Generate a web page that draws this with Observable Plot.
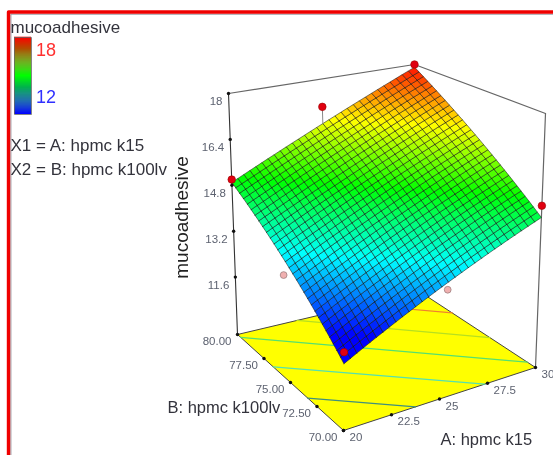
<!DOCTYPE html>
<html>
<head>
<meta charset="utf-8">
<script src="https://cdn.jsdelivr.net/npm/d3@7"></script>
<script src="https://cdn.jsdelivr.net/npm/@observablehq/plot@0.6"></script>
<style>
  html, body { margin: 0; padding: 0; background: #fff; }
  svg { display: block; filter: blur(0.6px); }
</style>
</head>
<body>
<div id="chart"></div>
<script>
// Factor ranges and tick labels
const aTicks = [20, 22.5, 25, 27.5, 30];
const aLabels = ["20", "22.5", "25", "27.5", "30"];
const bTicks = [70, 72.5, 75, 77.5, 80];
const bLabels = ["70.00", "72.50", "75.00", "77.50", "80.00"];
const zTicks = [11.6, 13.2, 14.8, 16.4, 18];
const zFloor = 9.6;
const zTop = 18;

// Design points: A, B, response
const ptA = [20, 30, 30, 20, 25];
const ptB = [80, 80, 70, 70, 80];
const ptZ = [15.0, 18.0, 14.95, 11.83, 17.0];
const lowA = [20, 25.3];
const lowB = [75.5, 70];
const lowZ = [12.85, 12.9];

// Response at the four corners of the fitted plane:
// A20/B70, A30/B70, A30/B80, A20/B80. The mesh cells are interpolated across this plane.
const cornerZ = [11.5, 14.56, 17.9, 14.9];

// Contour levels on the floor (estimated)
const contourLevels = [12.65, 13.75, 14.8, 15.9, 17];
const contourColors = ["#3f8f7f", "#55e0b0", "#55e070", "#b6e020", "#f08030"];

// Picture geometry of the box: the view of a corner on the floor and on the top
const view = {
  floor: {a20b70: [343, 430], a30b70: [535, 367], a30b80: [419, 291], a20b80: [237, 334]},
  top:   {a20b70: [345, 135], a30b70: [545, 113], a30b80: [414, 64],  a20b80: [228, 93]}
};
const cells = 30;

const lerp = (p, q, t) => [p[0] + (q[0] - p[0]) * t, p[1] + (q[1] - p[1]) * t];
function project(A, B, z) {
  const u = (A - 20) / 10, v = (B - 70) / 10, w = (z - zFloor) / (zTop - zFloor);
  const at = (f) => lerp(lerp(f.a20b70, f.a30b70, u), lerp(f.a20b80, f.a30b80, u), v);
  return lerp(at(view.floor), at(view.top), w);
}
const planeZ = (A, B) => {
  const u = (A - 20) / 10, v = (B - 70) / 10;
  return cornerZ[0] * (1 - u) * (1 - v) + cornerZ[1] * u * (1 - v) + cornerZ[2] * u * v + cornerZ[3] * (1 - u) * v;
};
const pt = (A, B, z, extra = {}) => { const [x, y] = project(A, B, z); return {x, y, ...extra}; };

// Surface mesh
const mesh = [];
for (let i = 0; i < cells; i++) for (let j = 0; j < cells; j++) {
  const a0 = 20 + 10 * i / cells, a1 = 20 + 10 * (i + 1) / cells;
  const b0 = 70 + 10 * j / cells, b1 = 70 + 10 * (j + 1) / cells;
  const zc = planeZ((a0 + a1) / 2, (b0 + b1) / 2);
  const id = i * cells + j;
  for (const [a, b] of [[a0, b0], [a1, b0], [a1, b1], [a0, b1], [a0, b0]]) {
    mesh.push(pt(a, b, planeZ(a, b), {id, zc}));
  }
}

// Floor polygon and box lines
const floorPoly = [[20, 70], [30, 70], [30, 80], [20, 80], [20, 70]].map(([a, b]) => pt(a, b, zFloor));
const boxBack = [pt(20, 80, zTop), pt(30, 80, zTop), pt(30, 70, zTop)];
const axisLeft = [pt(20, 80, zTop), pt(20, 80, zFloor)];
const axisRight = [pt(30, 70, zTop), pt(30, 70, zFloor)];

// Contours: straight on a plane, between the two edges of the floor they meet
function contour(level, k) {
  const out = [];
  const dA = cornerZ[1] - cornerZ[0], dB = cornerZ[3] - cornerZ[0];
  const rem = level - cornerZ[0];
  const candidates = [];
  const bAt = (a) => 70 + 10 * (rem - dA * (a - 20) / 10) / dB;
  const aAt = (b) => 20 + 10 * (rem - dB * (b - 70) / 10) / dA;
  for (const a of [20, 30]) { const b = bAt(a); if (b >= 70 && b <= 80) candidates.push([a, b]); }
  for (const b of [70, 80]) { const a = aAt(b); if (a >= 20 && a <= 30) candidates.push([a, b]); }
  for (const [a, b] of candidates.slice(0, 2)) out.push(pt(a, b, zFloor, {k}));
  return out;
}
const contours = contourLevels.flatMap(contour);

const pts = ptA.map((a, i) => pt(a, ptB[i], ptZ[i]));
const low = lowA.map((a, i) => pt(a, lowB[i], lowZ[i]));
const stem = [pt(25, 80, 17.0), pt(25, 80, planeZ(25, 80))];
const aT = aTicks.map((a, i) => pt(a, 70, zFloor, {label: aLabels[i]}));
const bT = bTicks.map((b, i) => pt(20, b, zFloor, {label: bLabels[i]}));
const zT = zTicks.map((z) => pt(20, 80, z, {label: String(z)}));

// Colour key
const keyColor = d3.scaleLinear().domain([12, 15, 18]).range(["#0000ff", "#00ff00", "#ff0000"]);
const keyY = d3.scaleLinear().domain([12, 18]).range([114, 37]);
const keySteps = d3.range(12, 18, 0.08);

const gridText = {fill: "#5d6270", fontFamily: "Liberation Sans, Arial, sans-serif", fontSize: 11.5};
const darkText = {fill: "#33333c", fontFamily: "Liberation Sans, Arial, sans-serif", fontSize: 17, textAnchor: "start"};
const txt = (s, x, y) => ({s, x, y});

const plot = Plot.plot({
  width: 553, height: 455,
  margin: 0,
  x: {type: "identity", axis: null},
  y: {type: "identity", axis: null},
  color: {type: "linear", domain: [12, 13.5, 15, 16.5, 18], range: ["#0000ff", "#00ffff", "#00ff00", "#ffff00", "#ff0000"], interpolate: "rgb", clamp: true},
  marks: [
    // red frame with its grey inner edge
    Plot.line([txt("", 553, 13.7), txt("", 10.4, 13.7), txt("", 10.4, 455)], {x: "x", y: "y", stroke: "#8a8a95", strokeWidth: 0.9}),
    Plot.line([txt("", 553, 11.5), txt("", 8, 11.5), txt("", 8, 455)], {x: "x", y: "y", stroke: "#f00000", strokeWidth: 3.4}),
    // colour key
    Plot.rect(keySteps, {
      x1: () => 14, x2: () => 31,
      y1: (d) => keyY(d), y2: (d) => keyY(d + 0.08) - 0.3,
      fill: {value: (d) => keyColor(d + 0.04), scale: null}
    }),
    Plot.line([txt("", 14, 37), txt("", 31, 37), txt("", 31, 114), txt("", 14, 114), txt("", 14, 37)], {x: "x", y: "y", stroke: "#666", strokeWidth: 0.8}),
    Plot.text([txt("mucoadhesive", 10, 27), txt("X1 = A: hpmc k15", 10, 145), txt("X2 = B: hpmc k100lv", 10, 169)], {x: "x", y: "y", text: "s", ...darkText}),
    Plot.text([txt("18", 35.5, 50)], {x: "x", y: "y", text: "s", ...darkText, fill: "#ff3030", fontSize: 18}),
    Plot.text([txt("12", 35.5, 97)], {x: "x", y: "y", text: "s", ...darkText, fill: "#3030ff", fontSize: 18}),
    // box
    Plot.line(boxBack, {x: "x", y: "y", stroke: "#666", strokeWidth: 1.2}),
    Plot.line(axisLeft, {x: "x", y: "y", stroke: "#333", strokeWidth: 1.1}),
    Plot.line(axisRight, {x: "x", y: "y", stroke: "#666", strokeWidth: 1.2}),
    // floor
    Plot.line(floorPoly, {x: "x", y: "y", fill: "#ffff00", stroke: "#444", strokeWidth: 1}),
    Plot.line(contours, {x: "x", y: "y", z: "k", stroke: (d) => contourColors[d.k], strokeWidth: 1.2}),
    // points under the surface
    Plot.dot(low, {x: "x", y: "y", r: 3.4, fill: "#f0b0b0", stroke: "#a08080", strokeWidth: 0.8}),
    // surface
    Plot.line(mesh, {x: "x", y: "y", z: "id", fill: "zc", stroke: "#111", strokeWidth: 0.75, strokeOpacity: 0.7}),
    // stem and points above it
    Plot.line(stem, {x: "x", y: "y", stroke: "#888", strokeWidth: 1}),
    Plot.dot(pts, {x: "x", y: "y", r: 3.8, fill: "#e00010", stroke: "#900", strokeWidth: 0.6}),
    // ticks
    Plot.dot([...aT, ...bT, ...zT], {x: "x", y: "y", r: 1.7, fill: "#111"}),
    Plot.text(zT, {x: "x", y: "y", text: "label", dx: -6, dy: 8, textAnchor: "end", ...gridText}),
    Plot.text(bT, {x: "x", y: "y", text: "label", dx: -6, dy: 7, textAnchor: "end", ...gridText}),
    Plot.text(aT, {x: "x", y: "y", text: "label", dx: 6, dy: 7, textAnchor: "start", ...gridText}),
    // axis titles
    Plot.text([txt("B: hpmc k100lv", 167, 407)], {x: "x", y: "y", text: "s", ...darkText, fontSize: 16.5}),
    Plot.text([txt("A: hpmc k15", 440, 439)], {x: "x", y: "y", text: "s", ...darkText, fontSize: 16.5}),
    Plot.text([txt("mucoadhesive", 181, 217)], {x: "x", y: "y", text: "s", ...darkText, fill: "#222", textAnchor: "middle", rotate: -90, fontSize: 19})
  ]
});
document.getElementById("chart").appendChild(plot);
</script>
</body>
</html>
